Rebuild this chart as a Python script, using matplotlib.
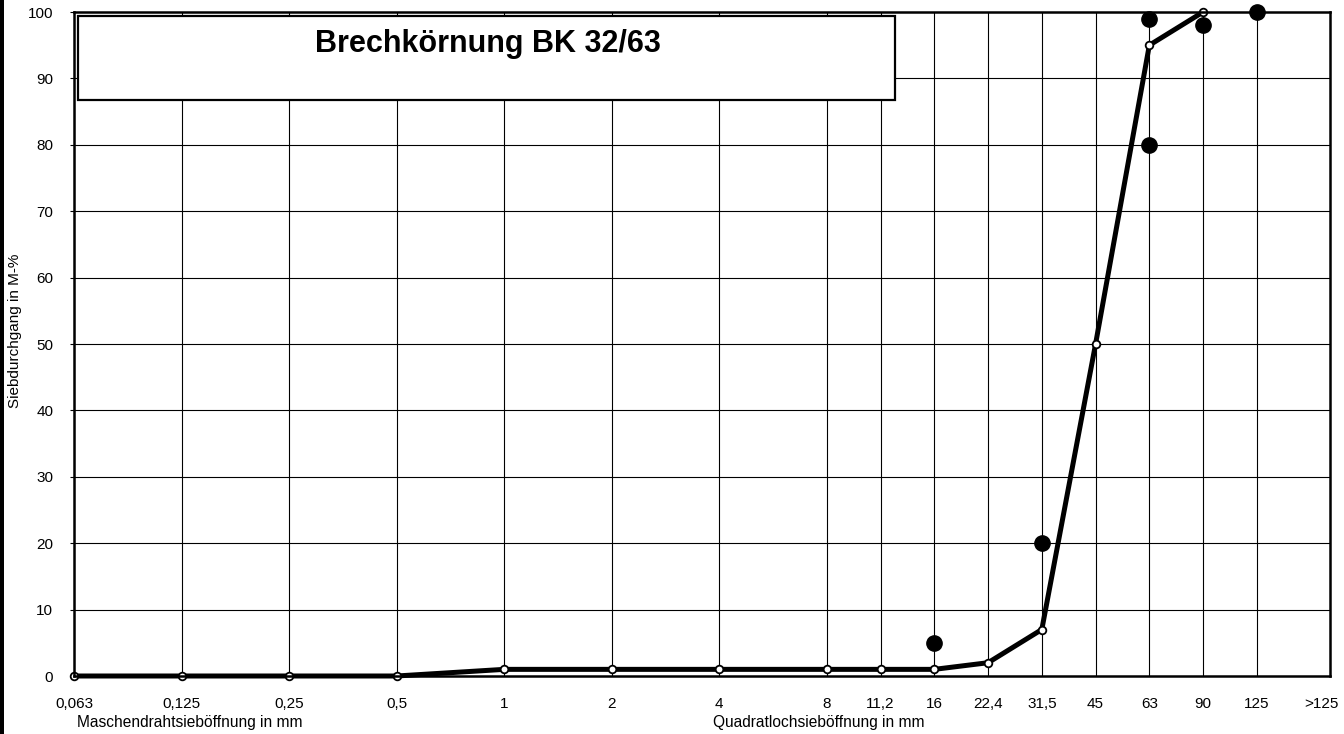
import matplotlib
matplotlib.use('Agg')
from matplotlib import pyplot as plt
from matplotlib.patches import Rectangle
import matplotlib.transforms as mtransforms

plt.rcParams['font.family'] = ['Liberation Sans', 'DejaVu Sans']

# sieve openings (position on a log2 scale, one step = doubling)
sieve_labels = ['0,063', '0,125', '0,25', '0,5', '1', '2', '4', '8', '11,2',
                '16', '22,4', '31,5', '45', '63', '90', '125']
sieve_pos = [0, 1, 2, 3, 4, 5, 6, 7, 7.5, 8, 8.5, 9, 9.5, 10, 10.5, 11]

# passing percentages of the sample
curve_pos = [0, 1, 2, 3, 4, 5, 6, 7, 7.5, 8, 8.5, 9, 9.5, 10, 10.5]
curve_val = [0, 0, 0, 0, 1, 1, 1, 1, 1, 1, 2, 7, 50, 95, 100]

# limit values
limit_pos = [8, 9, 10, 10, 10.5, 11]
limit_val = [5, 20, 80, 99, 98, 100]

fig = plt.figure(figsize=(13.44, 7.34), dpi=100)
ax = fig.add_axes([74 / 1344, 58 / 734, 1256 / 1344, 664 / 734])

ax.set_xlim(0, 11.68)
ax.set_ylim(0, 100)

# grid
for p in sieve_pos:
    ax.axvline(p, color='black', lw=0.8, zorder=1)
for v in range(10, 100, 10):
    ax.axhline(v, color='black', lw=0.8, zorder=1)

# title box
box = Rectangle((4 / 1256, (676 - 100) / 664), (895 - 78) / 1256, 84 / 664,
                transform=ax.transAxes, facecolor='white', edgecolor='black',
                lw=1.6, zorder=2)
ax.add_patch(box)
ax.text((488 - 74) / 1256, (676 - 44) / 664, 'Brechkörnung BK 32/63',
        transform=ax.transAxes, ha='center', va='center', fontsize=22,
        fontweight='bold', zorder=3)

ax.plot(curve_pos, curve_val, color='black', lw=3.6, marker='o', ms=5.5,
        mfc='white', mec='black', mew=1.3, zorder=4, clip_on=False)
ax.plot(limit_pos, limit_val, ls='none', marker='o', ms=11, color='black',
        zorder=5, clip_on=False)

ax.set_xticks(sieve_pos + [11.6])
ax.set_xticklabels(sieve_labels + ['>125'], fontsize=11)
ax.tick_params(axis='x', length=0, pad=15)
ax.set_yticks(range(0, 101, 10))
ax.tick_params(axis='y', labelsize=11, length=3, width=0.8, pad=12)

for s in ax.spines.values():
    s.set_linewidth(1.8)
    s.set_zorder(6)

ax.set_ylabel('Siebdurchgang in M-%', fontsize=11)
ax.yaxis.set_label_coords(-52 / 1256, 0.52)

trans = mtransforms.blended_transform_factory(ax.transData, fig.transFigure)
ax.text(1.08, 11 / 734, 'Maschendrahtsieböffnung in mm', transform=trans,
        ha='center', va='center', fontsize=11.2)
ax.text(6.93, 11 / 734, 'Quadratlochsieböffnung in mm', transform=trans,
        ha='center', va='center', fontsize=11.2)

fig.patches.append(Rectangle((0, 0), 4 / 1344, 1, transform=fig.transFigure,
                             facecolor='black', edgecolor='none'))

fig.savefig('out.png', dpi=100)
